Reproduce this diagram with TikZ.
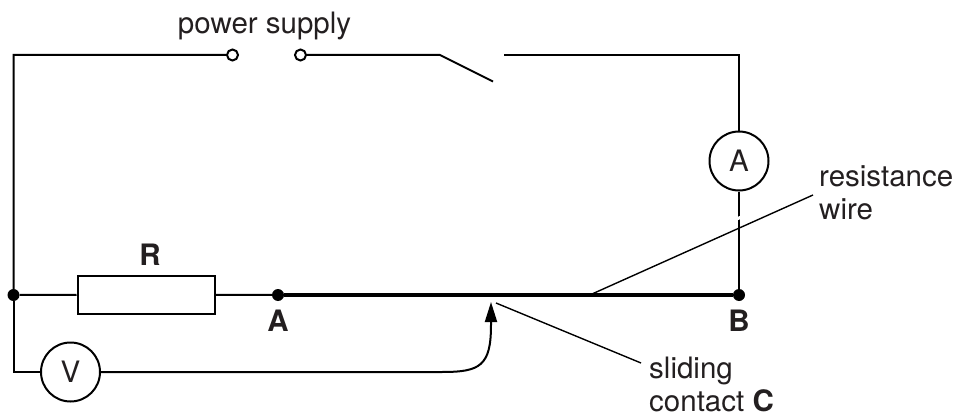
\documentclass[tikz,border=0pt]{standalone}
\usepackage{fontspec}
\setmainfont{TeX Gyre Heros}
\usetikzlibrary{arrows.meta}
\definecolor{inkcol}{HTML}{231F20}

\tikzset{
    wire/.style={line width=2pt,black},
    leader/.style={line width=1.4pt,black},
    terminal/.style={circle,draw,line width=2pt,fill=white,inner sep=0pt,minimum size=11pt},
    junction/.style={circle,fill,inner sep=0pt,minimum size=12pt},
    meter/.style={circle,draw,line width=2pt,fill=white,inner sep=0pt,minimum size=59pt,text=inkcol,font=\fontsize{29.5}{33}\selectfont},
    resistor/.style={rectangle,draw,line width=2pt,inner sep=0pt,minimum width=137pt,minimum height=38pt},
    lbl/.style={text=inkcol,inner sep=0pt,font=\fontsize{29.5}{33}\selectfont,align=left},
    boldlbl/.style={lbl,font=\fontsize{29.5}{33}\selectfont\bfseries}
}

\begin{document}
\begin{tikzpicture}[x=1pt,y=-1pt]
            \useasboundingbox (0,0) rectangle (954,412);

            \coordinate (tl) at (13.5,55);
            \coordinate (tr) at (739,55);
            \coordinate (bl) at (13.5,372);
            \coordinate (hinge) at (440,55);
            \coordinate (blade) at (493,81.5);
            \coordinate (contact) at (504,55);
            \coordinate (tip) at (491,302);
            \coordinate (wirefoot) at (592,294);
            \coordinate (wirehead) at (813,195);
            \coordinate (slidehead) at (496,303);
            \coordinate (slidefoot) at (641,363);

            \node (p1) at (232.5,55) [terminal] {};
            \node (p2) at (300.5,55) [terminal] {};
            \node (mA) at (739,161) [meter] {A};
            \node (mV) at (70.5,372) [meter] {V};
            \node (res) at (146,294.5) [resistor] {};
            \node (jn) at (13.5,295) [junction] {};
            \node (a) at (278,295) [junction] {};
            \node (b) at (739,295) [junction] {};

            \node (supply) at (264.5,26) [lbl] {power supply};
            \node (rlabel) at (150,255) [boldlbl] {R};
            \node (alabel) at (278,321) [boldlbl] {A};
            \node (blabel) at (739,321) [boldlbl] {B};
            \node (wirelabel) at (819,192.5) [lbl,anchor=west] {resistance\\wire};
            \node (slidelabel) at (649,384) [lbl,anchor=west] {sliding\\contact \textbf{C}};

            % circuit
            \draw[wire] (p1) -- (tl) -- (jn) -- (res);
            \draw[wire] (jn) -- (bl) -- (mV);
            \draw[wire] (p2) -- (hinge) -- (blade);
            \draw[wire] (contact) -- (tr) -- (mA) -- (b);
            \draw[wire] (res) -- (a);
            \draw[line width=4.5pt] (a) -- (b);
            \draw[wire,-{Triangle[length=20pt,width=12pt]}] (mV) -- (442,372)
                .. controls (480,372) and (491,366) .. (491,325) -- (tip);

            % labels
            \draw[white,line width=3pt] (733.5,220.5) -- (744.5,215.5);
            \draw[leader] (wirefoot) -- (wirehead);
            \draw[leader] (slidehead) -- (slidefoot);

        \end{tikzpicture}
\end{document}
